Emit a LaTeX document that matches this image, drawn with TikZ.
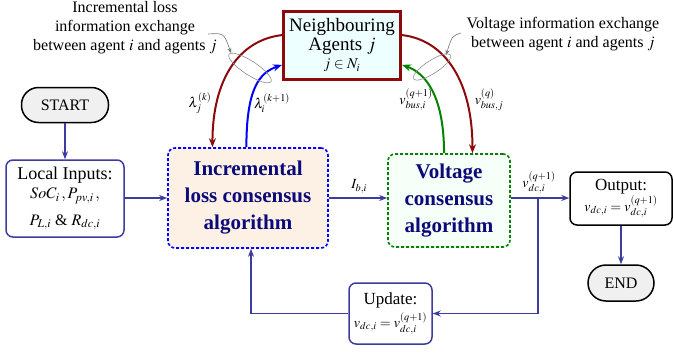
\documentclass[tikz,border=0pt]{standalone}
\usepackage{mathptmx}
\usepackage{fontspec}
\setmainfont{Liberation Serif}
\usetikzlibrary{arrows.meta,shapes.geometric,calc}
\definecolor{flow}{RGB}{60,60,160}
\definecolor{dred}{RGB}{140,10,10}
\definecolor{navy}{RGB}{10,10,120}
\definecolor{neighfill}{RGB}{238,255,255}
\definecolor{incfill}{RGB}{253,241,230}
\definecolor{voltfill}{RGB}{246,255,248}
\definecolor{termfill}{RGB}{240,240,240}
\definecolor{dgreen}{RGB}{0,130,0}
\tikzset{
  fs/.style={font=\fontsize{#1}{#1}\selectfont},
  term/.style={draw=black,line width=1.5pt,fill=termfill,rounded corners=17pt,inner sep=0pt,fs=16},
  procbox/.style={draw=flow,line width=1.5pt,fill=white,rounded corners=7pt,inner sep=0pt,align=center},
  algbox/.style={line width=1.6pt,rounded corners=7pt,inner sep=0pt,align=center,text=navy,
     font=\fontsize{21}{27}\selectfont\bfseries, dash pattern=on 3pt off 2pt},
  flowline/.style={draw=flow,line width=1.5pt,-{Stealth[length=8pt,width=6pt]}},
  infoarc/.style={line width=2pt,-{Stealth[length=9pt,width=7pt]}},
  lbl/.style={inner sep=1pt,fs=14},
  callout/.style={draw=black!55,line width=0.6pt,-{Stealth[length=5pt,width=4pt]}},
  ring/.style={draw=black!45,line width=0.6pt,ellipse,inner sep=0pt},
}
\begin{document}
\begin{tikzpicture}[x=1pt,y=-1pt]
\useasboundingbox (0,0) rectangle (673,354);

% main nodes
\node[draw=dred,line width=3pt,fill=neighfill,minimum width=117pt,minimum height=68pt,inner sep=0pt,align=center]
  (neigh) at (342,45) {\fontsize{19}{21}\selectfont Neighbouring\\[2pt] \fontsize{19}{21}\selectfont Agents $j$\\[3pt] \fontsize{15}{15}\selectfont $j\in N_i$};
\node[term,minimum width=87pt,minimum height=35pt] (start) at (65,105) {START};
\node[procbox,minimum width=118pt,minimum height=77pt] (local) at (65,198.5)
  {\fontsize{18}{20}\selectfont Local Inputs:\\[4pt]
   \fontsize{16}{18}\selectfont $SoC_i\,,P_{pv,i}\,,$\\[10pt]
   \fontsize{16}{18}\selectfont $P_{L,i}$ \& $R_{dc,i}$};
\node[algbox,draw=blue,fill=incfill,minimum width=160pt,minimum height=100pt] (inc) at (248,198)
  {Incremental\\loss consensus\\algorithm};
\node[algbox,draw=dgreen,fill=voltfill,minimum width=122pt,minimum height=93pt] (volt) at (449,200.5)
  {Voltage\\consensus\\algorithm};
\node[draw=black,line width=1.5pt,fill=white,rounded corners=7pt,inner sep=0pt,align=center,
  minimum width=102pt,minimum height=53pt] (out) at (621,198.5)
  {\fontsize{17}{19}\selectfont Output:\\[1pt] \fontsize{14}{16}\selectfont $v_{dc,i}=v_{dc,i}^{(q+1)}$};
\node[term,minimum width=66pt,minimum height=36pt,rounded corners=18pt] (end) at (621,283) {END};
\node[procbox,minimum width=83pt,minimum height=61pt] (upd) at (390.5,313.5)
  {\fontsize{17}{19}\selectfont Update:\\[3pt] \fontsize{14}{16}\selectfont $v_{dc,i}=v_{dc,i}^{(q+1)}$};

% flow connectors
\draw[flowline] (start) -- (local);
\draw[flowline] (local.east |- inc.west) -- (inc.west);
\draw[flowline] (inc) -- node[above,lbl,pos=0.52,yshift=3pt]{$I_{b,i}$} (inc -| volt.west);
\coordinate (br) at (538,198);
\draw[flowline] (volt.east |- br) -- (br) -- (br -| out.west);
\node[lbl] (vlab) at (539,183) {$v_{dc,i}^{(q+1)}$};
\draw[flowline] (br) |- (upd.east);
\draw[flowline] (upd.west) -| ([xshift=3pt]inc.south);
\draw[flowline] (out) -- (end);

% exchange arcs
\coordinate (nw1) at ($(neigh.north west)!0.36!(neigh.south west)$);
\coordinate (nw2) at ($(neigh.north west)!0.78!(neigh.south west)$);
\coordinate (ne1) at ($(neigh.north east)!0.36!(neigh.south east)$);
\coordinate (ne2) at ($(neigh.north east)!0.78!(neigh.south east)$);
\coordinate (i1) at ($(inc.north west)!0.28!(inc.north east)$);
\coordinate (i2) at ($(inc.north west)!0.49!(inc.north east)$);
\coordinate (v1) at ($(volt.north west)!0.46!(volt.north east)$);
\coordinate (v2) at ($(volt.north west)!0.69!(volt.north east)$);
\draw[infoarc,dred] (nw1) .. controls +(-43,5) and +(0,-68) .. (i1);
\draw[infoarc,blue] (i2) .. controls +(0,-58) and +(-23,8) .. (nw2);
\draw[infoarc,dgreen] (v1) .. controls +(0,-58) and +(23,8) .. (ne2);
\draw[infoarc,dred] (ne1) .. controls +(43,5) and +(0,-72) .. (v2);

\node[lbl] (lk) at (200,103) {$\lambda_j^{(k)}$};
\node[lbl] (lk1) at (272,103) {$\lambda_i^{(k+1)}$};
\node[lbl] (vq1) at (416,100) {$v_{bus,i}^{(q+1)}$};
\node[lbl] (vq) at (489,100) {$v_{bus,j}^{(q)}$};

% rings and callouts
\node[ring,minimum width=50pt,minimum height=14pt,rotate=-33] (ringL) at (250,68) {};
\node[ring,minimum width=44pt,minimum height=13pt,rotate=33] (ringR) at (432,67) {};
\node[align=center,font=\fontsize{16}{19}\selectfont] (txtL) at (125,28)
  {Incremental loss\\information exchange\\between agent $i$ and agents $j$};
\node[align=center,font=\fontsize{16}{19}\selectfont] (txtR) at (563,34)
  {Voltage information exchange\\between agent $i$ and agents $j$};
\coordinate (cL) at (208,34);
\coordinate (cR) at (461,33);
\draw[callout] (cL) .. controls (224,33) .. (231,53);
\draw[callout] (cR) .. controls (452,36) .. (446,55);
\end{tikzpicture}
\end{document}
